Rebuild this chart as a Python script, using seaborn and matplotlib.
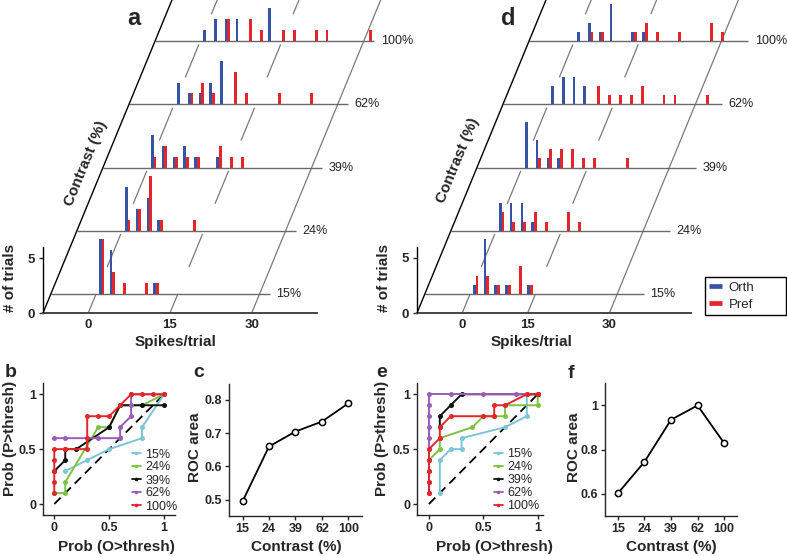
import numpy as np
import matplotlib
matplotlib.use("Agg")
import matplotlib.pyplot as plt
from matplotlib.lines import Line2D
import seaborn as sns

# ---------------- data ----------------
contrast_labels = ["15%", "24%", "39%", "62%", "100%"]
contrast_ticks = ["15", "24", "39", "62", "100"]
bin_centers = [1, 3, 5, 7, 9, 11, 13, 15, 17, 19, 21, 23, 25, 27, 29, 31]

# spike-count histograms (# of trials), one row per contrast
a_orth = [
    [5, 4, 0, 0, 0, 1, 0, 0, 0, 0, 0, 0, 0, 0, 0, 0],
    [4, 2, 3, 1, 0, 0, 0, 0, 0, 0, 0, 0, 0, 0, 0, 0],
    [3, 2, 1, 2, 1, 0, 1, 0, 0, 0, 0, 0, 0, 0, 0, 0],
    [2, 1, 1, 2, 4, 0, 0, 0, 0, 0, 0, 0, 0, 0, 0, 0],
    [1, 2, 2, 2, 0, 0, 3, 0, 0, 0, 0, 0, 0, 0, 0, 0],
]
a_pref = [
    [5, 2, 1, 0, 1, 1, 0, 0, 0, 0, 0, 0, 0, 0, 0, 0],
    [1, 2, 5, 1, 0, 0, 1, 0, 0, 0, 0, 0, 0, 0, 0, 0],
    [1, 2, 1, 1, 1, 0, 2, 1, 1, 0, 0, 0, 0, 0, 0, 0],
    [0, 1, 2, 1, 0, 3, 1, 0, 0, 1, 0, 0, 1, 0, 0, 0],
    [0, 0, 2, 0, 2, 1, 0, 1, 1, 0, 1, 1, 0, 0, 0, 1],
]
d_orth = [
    [1, 6, 1, 1, 0, 1, 0, 0, 0, 0, 0, 0, 0, 0, 0, 0],
    [3, 3, 3, 1, 0, 0, 0, 0, 0, 0, 0, 0, 0, 0, 0, 0],
    [5, 3, 1, 1, 0, 0, 0, 0, 0, 0, 0, 0, 0, 0, 0, 0],
    [2, 3, 3, 2, 0, 0, 0, 0, 0, 0, 0, 0, 0, 0, 0, 0],
    [1, 2, 1, 4, 0, 1, 1, 0, 0, 0, 0, 0, 0, 0, 0, 0],
]
d_pref = [
    [2, 2, 1, 1, 3, 1, 0, 0, 0, 0, 0, 0, 0, 0, 0, 0],
    [2, 1, 1, 2, 1, 0, 2, 1, 0, 0, 0, 0, 0, 0, 0, 0],
    [0, 1, 2, 2, 2, 1, 1, 0, 0, 1, 0, 0, 0, 0, 0, 0],
    [0, 0, 0, 0, 2, 1, 1, 1, 2, 0, 1, 1, 0, 0, 1, 0],
    [0, 1, 1, 0, 0, 1, 2, 1, 0, 1, 0, 0, 2, 1, 0, 0],
]
a_xtick_pos = [0, 15, 30]
d_xtick_pos = [0, 12, 27]
hist_xtick_labels = ["0", "15", "30"]

# ROC curves (panel b)
b_roc_x = [
    [0.1, 0.3, 0.5, 0.8, 0.8, 1.0],
    [0.0, 0.1, 0.1, 0.4, 0.5, 0.6, 0.8, 1.0],
    [0.0, 0.1, 0.1, 0.2, 0.5, 0.6, 0.8, 1.0],
    [0.0, 0.1, 0.4, 0.6, 0.6, 0.7, 0.7, 0.7, 1.0],
    [0.0, 0.0, 0.0, 0.0, 0.0, 0.1, 0.3, 0.3, 0.3, 0.4, 0.5, 0.6, 0.7, 0.8, 0.9, 1.0],
]
b_roc_y = [
    [0.3, 0.4, 0.5, 0.6, 0.7, 1.0],
    [0.1, 0.1, 0.2, 0.7, 0.7, 0.9, 0.9, 1.0],
    [0.3, 0.4, 0.5, 0.5, 0.7, 0.9, 0.9, 0.9],
    [0.6, 0.6, 0.6, 0.6, 0.7, 0.8, 0.9, 1.0, 1.0],
    [0.1, 0.2, 0.3, 0.4, 0.5, 0.5, 0.5, 0.6, 0.8, 0.8, 0.8, 0.9, 1.0, 1.0, 1.0, 1.0],
]
# ROC curves (panel e)
e_roc_x = [
    [0.1, 0.1, 0.2, 0.3, 0.3, 0.7, 0.9, 0.9, 1.0],
    [0.0, 0.1, 0.1, 0.4, 0.5, 0.6, 0.7, 0.7, 1.0, 1.0],
    [0.1, 0.1, 0.2, 0.3, 1.0],
    [0.0, 0.0, 0.0, 0.0, 0.0, 0.0, 0.0, 0.0, 0.0, 0.0, 0.2, 0.5, 0.8, 0.9],
    [0.0, 0.0, 0.0, 0.0, 0.0, 0.1, 0.1, 0.2, 0.5, 0.6, 0.6, 0.7, 0.9, 1.0],
]
e_roc_y = [
    [0.1, 0.4, 0.5, 0.5, 0.6, 0.7, 0.8, 1.0, 1.0],
    [0.4, 0.5, 0.6, 0.7, 0.8, 0.8, 0.8, 0.9, 0.9, 1.0],
    [0.7, 0.8, 0.9, 1.0, 1.0],
    [0.1, 0.2, 0.3, 0.4, 0.5, 0.6, 0.7, 0.8, 0.9, 1.0, 1.0, 1.0, 1.0, 1.0],
    [0.1, 0.2, 0.3, 0.4, 0.5, 0.6, 0.7, 0.8, 0.8, 0.8, 0.9, 0.9, 1.0, 1.0],
]
# ROC area vs contrast
c_area = [0.495, 0.66, 0.705, 0.735, 0.79]
f_area = [0.603, 0.745, 0.935, 1.0, 0.83]

# ---------------- style ----------------
sns.set_theme(style="ticks")
plt.rcParams["font.family"] = ["Liberation Sans", "DejaVu Sans"]
plt.rcParams["axes.linewidth"] = 1.0

BLUE = "#3953A4"
RED = "#E3262B"
roc_colors = ["#7CC5D9", "#7DC243", "#111111", "#9B5CB9", "#E3262B"]

W, H = 787, 556
fig = plt.figure(figsize=(W / 100, H / 100), dpi=100)


def box(l, t, r, b):
    return [l / W, 1 - b / H, (r - l) / W, (b - t) / H]


def ftext(x, y, s, **kw):
    fig.text(x / W, 1 - y / H, s, **kw)


# pseudo-3D geometry (pixels)
FIRST_DY = 19.0
LEVEL_DY = 63.2
SLOPE = 0.412  # px to the right per px upwards
PX_SPIKE = 5.45
XMIN = -8.3
BASE_LEN = 40.2
AX_W = 347.0
AX_H = 313.0


def hist_panel(rect, orth, pref, px_count, xtick_pos, ytick_top):
    ax = fig.add_axes(rect)
    ax.set_xlim(XMIN, XMIN + AX_W / PX_SPIKE)
    ax.set_ylim(0, AX_H / px_count)

    def off(h):
        return h * SLOPE / PX_SPIKE, h / px_count

    # oblique tick lines
    for i, t in enumerate(xtick_pos):
        if i < len(xtick_pos) - 1:
            segs = [(0, FIRST_DY)] + [
                (FIRST_DY + k * LEVEL_DY + 27, FIRST_DY + k * LEVEL_DY + 60)
                for k in range(5)
            ]
        else:
            segs = [(0, 420)]
        for h0, h1 in segs:
            x0, y0 = off(h0)
            x1, y1 = off(h1)
            ax.plot([t + x0, t + x1], [y0, y1], color="#7a7a7a", lw=0.9,
                    zorder=1, solid_capstyle="butt")
    # diagonal contrast axis
    x1, y1 = off(420)
    ax.plot([XMIN, XMIN + x1], [0, y1], color="black", lw=1.0, zorder=4)

    bc = np.array(bin_centers, dtype=float)
    for k in range(5):
        dx, dy = off(FIRST_DY + k * LEVEL_DY)
        ax.plot([XMIN + dx, XMIN + BASE_LEN + dx], [dy, dy], color="#6a6a6a",
                lw=1.0, zorder=2, solid_capstyle="butt")
        ax.text(XMIN + BASE_LEN + dx + 1.2, dy, contrast_labels[k],
                fontsize=9, va="center", ha="left", color="#222222")
        ax.bar(bc + dx - 0.26, orth[k], width=0.52, bottom=dy, color=BLUE,
               linewidth=0, zorder=3)
        ax.bar(bc + dx + 0.26, pref[k], width=0.52, bottom=dy, color=RED,
               linewidth=0, zorder=3)

    for s in ["top", "right"]:
        ax.spines[s].set_visible(False)
    ax.spines["left"].set_bounds(0, 66 / px_count)
    ax.spines["left"].set_color("black")
    ax.spines["bottom"].set_bounds(XMIN, 42.0)
    ax.spines["bottom"].set_color("#444444")
    ax.spines["bottom"].set_linewidth(1.4)
    ax.set_xticks(xtick_pos, hist_xtick_labels)
    ax.set_yticks([0, ytick_top], ["0", "5"])
    ax.tick_params(axis="x", length=0, pad=4, labelsize=9.5)
    ax.tick_params(axis="y", length=3, width=1.0, pad=3, labelsize=9.5)
    for lab in ax.get_xticklabels() + ax.get_yticklabels():
        lab.set_fontweight("bold")
    ax.patch.set_alpha(0)
    return ax


ax_a = hist_panel(box(43, 0, 43 + AX_W, 313), a_orth, a_pref, 10.93,
                  a_xtick_pos, 5)
ax_d = hist_panel(box(417, 0, 417 + AX_W, 313), d_orth, d_pref, 9.2,
                  d_xtick_pos, 55 / 9.2)

leg = ax_d.legend(
    handles=[Line2D([], [], color=BLUE, lw=3.4, solid_capstyle="butt"),
             Line2D([], [], color=RED, lw=3.4, solid_capstyle="butt")],
    labels=["Orth", "Pref"], loc="lower left",
    bbox_to_anchor=(705 / W, 1 - 315 / H, 81 / W, 38 / H),
    bbox_transform=fig.transFigure, mode="expand", borderaxespad=0,
    fontsize=9.5, handlelength=1.0, handletextpad=0.5, borderpad=0.3,
    labelspacing=0.4, frameon=True, fancybox=False, framealpha=1,
    edgecolor="black")
leg.get_frame().set_linewidth(1.0)

# top panel labels
for x0 in (0, 374):
    ftext(10 + x0, 278, "# of trials", rotation=90, ha="center", va="center",
          fontsize=11, fontweight="bold")
ftext(176, 342, "Spikes/trial", ha="center", va="center", fontsize=11,
      fontweight="bold")
ftext(532, 342, "Spikes/trial", ha="center", va="center", fontsize=11,
      fontweight="bold")
ftext(86, 163, "Contrast (%)", rotation=67.6, rotation_mode="anchor",
      ha="center", va="center", fontsize=11, fontweight="bold")
ftext(458, 160, "Contrast (%)", rotation=67.6, rotation_mode="anchor",
      ha="center", va="center", fontsize=11, fontweight="bold")


# ---------------- ROC panels ----------------
def roc_panel(rect, xs, ys, xlim, legend_xy):
    ax = fig.add_axes(rect)
    ax.plot([0, 1], [0, 1], color="black", lw=1.3, dashes=(5, 3), zorder=1)
    handles = []
    for k in range(5):
        sns.lineplot(x=xs[k], y=ys[k], sort=False, estimator=None, ax=ax,
                     color=roc_colors[k], lw=1.4, marker="o", markersize=3.6,
                     markeredgewidth=0, zorder=2 + k)
        handles.append(Line2D([], [], color=roc_colors[k], lw=1.3,
                              marker="o", markersize=2.6, markeredgewidth=0))
    ax.set_xlim(*xlim)
    ax.set_ylim(-0.1, 1.1)
    sns.despine(ax=ax)
    ax.set_xticks([0, 0.5, 1], ["0", "0.5", "1"])
    ax.set_yticks([0, 0.5, 1], ["0", "0.5", "1"])
    ax.tick_params(length=3, width=1.0, pad=2, labelsize=9)
    for lab in ax.get_xticklabels() + ax.get_yticklabels():
        lab.set_fontweight("bold")
    ax.set_xlabel("")
    ax.set_ylabel("")
    ax.legend(handles=handles, labels=contrast_labels, loc="upper left",
              bbox_to_anchor=(legend_xy[0] / W, 1 - legend_xy[1] / H),
              bbox_transform=fig.transFigure, borderaxespad=0, borderpad=0,
              frameon=False, fontsize=9, handlelength=0.7,
              handletextpad=0.35, labelspacing=0.08)
    return ax


def area_panel(rect, vals, ylim, yticks, yticklabels):
    ax = fig.add_axes(rect)
    sns.lineplot(x=list(range(len(vals))), y=vals, ax=ax, color="black",
                 lw=1.3, marker="o", markersize=4.5, markerfacecolor="white",
                 markeredgecolor="black", markeredgewidth=1.1)
    ax.set_xlim(-0.5, 4.5)
    ax.set_ylim(*ylim)
    sns.despine(ax=ax)
    ax.set_xticks(range(5), contrast_ticks)
    ax.set_yticks(yticks, yticklabels)
    ax.tick_params(length=3, width=1.0, pad=2, labelsize=9)
    for lab in ax.get_xticklabels() + ax.get_yticklabels():
        lab.set_fontweight("bold")
    ax.set_xlabel("")
    ax.set_ylabel("")
    return ax


roc_panel(box(43.3, 383.3, 175, 515), b_roc_x, b_roc_y, (-0.1, 1.1),
          (132, 448.5))
roc_panel(box(417.3, 383.3, 542.7, 515), e_roc_x, e_roc_y, (-0.107, 1.046),
          (494, 448))
area_panel(box(229.3, 384.3, 361.7, 516), c_area, (0.451, 0.847),
           [0.5, 0.6, 0.7, 0.8], ["0.5", "0.6", "0.7", "0.8"])
area_panel(box(604.7, 383.3, 737.3, 516), f_area, (0.5, 1.1),
           [0.6, 0.8, 1.0], ["0.6", "0.8", "1"])

# bottom panel labels
for x in (116, 494):
    ftext(x, 547, "Prob (O>thresh)", ha="center", va="center", fontsize=11,
          fontweight="bold")
for x in (10, 382):
    ftext(x, 438, "Prob (P>thresh)", rotation=90, ha="center", va="center",
          fontsize=11, fontweight="bold")
for x in (296, 671):
    ftext(x, 547, "Contrast (%)", ha="center", va="center", fontsize=11,
          fontweight="bold")
for x in (195, 574):
    ftext(x, 447, "ROC area", rotation=90, ha="center", va="center",
          fontsize=11, fontweight="bold")

# panel letters
ftext(134, 25, "a", ha="center", va="baseline", fontsize=17, fontweight="bold")
ftext(508, 25, "d", ha="center", va="baseline", fontsize=17, fontweight="bold")
ftext(11, 377, "b", ha="center", va="baseline", fontsize=14, fontweight="bold")
ftext(199, 377, "c", ha="center", va="baseline", fontsize=14, fontweight="bold")
ftext(382, 377, "e", ha="center", va="baseline", fontsize=14, fontweight="bold")
ftext(571, 378, "f", ha="center", va="baseline", fontsize=14, fontweight="bold")

fig.savefig("out.png", dpi=100)
